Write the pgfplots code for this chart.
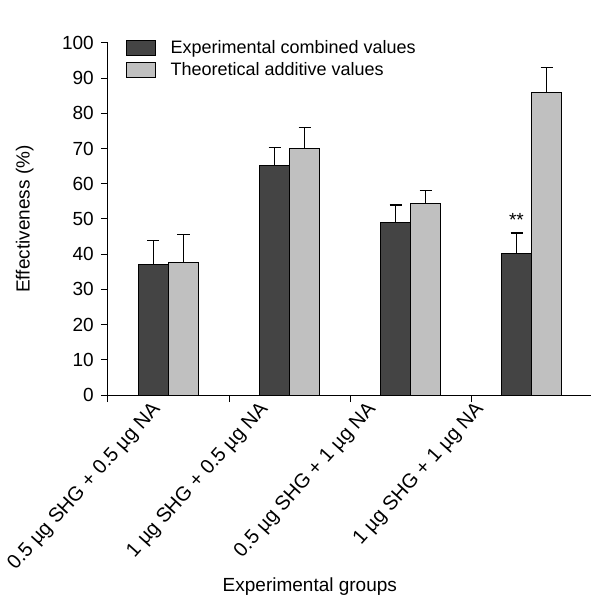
\documentclass[border=0pt]{standalone}
\usepackage{pgfplots}
\pgfplotsset{compat=1.18}
\usepackage{fontspec}
\setmainfont{Liberation Sans}
\usetikzlibrary{calc}

\definecolor{darkbar}{HTML}{444444}
\definecolor{lightbar}{HTML}{C0C0C0}

\begin{document}
\begin{tikzpicture}
\begin{axis}[
    at={(0,0)}, anchor=south west,
    scale only axis,
    width=484pt, height=352pt,
    xmin=-0.5, xmax=3.5,
    ymin=0, ymax=100,
    axis lines*=left,
    axis line style={line width=1pt},
    ybar=0pt, bar width=30pt,
    xtick={-0.5,0.5,1.5,2.5},
    xticklabels={},
    extra x ticks={-0.18,0.71,1.60,2.49},
    extra x tick labels={0.5 µg SHG + 0.5 µg NA, 1 µg SHG + 0.5 µg NA, 0.5 µg SHG + 1 µg NA, 1 µg SHG + 1 µg NA},
    extra x tick style={major tick length=0pt,
        tick label style={rotate=48, anchor=north east, inner sep=1pt, yshift=-5pt,
            font=\fontsize{20}{24}\selectfont}},
    ytick={0,10,...,100},
    tick align=outside,
    major tick length=7pt,
    tick style={line width=1pt, black},
    tick label style={font=\fontsize{19}{22}\selectfont},
    yticklabel style={inner sep=0pt, xshift=-7pt},
    /pgf/number format/assume math mode=true,
    ylabel={Effectiveness (\%)},
    xlabel={Experimental groups},
    label style={font=\fontsize{19}{22}\selectfont},
    ylabel style={at={(axis description cs:-0.172,0.5)}, anchor=center},
    xlabel style={at={(axis description cs:0.417,-0.545)}, anchor=center},
    legend style={draw=none, fill=none, at={(axis description cs:0.035,1.015)},
        anchor=north west, font=\fontsize{18}{21}\selectfont,
        row sep=3pt, inner sep=1pt},
    legend cell align=left,
    legend image code/.code={\draw[#1,draw=black,line width=0.8pt] (0pt,-7.5pt) rectangle (29pt,7.5pt);
        \path[draw=none,fill=none] (0pt,0pt) -- (42pt,0pt);},
    error bars/y dir=plus,
    error bars/y explicit,
    error bars/error bar style={line width=1.2pt, black},
    error bars/error mark options={rotate=90, mark size=6pt, line width=1.2pt, black},
]
\addplot[fill=darkbar, draw=black, line width=1pt] coordinates {
    (0,37.2) +- (0,6.8)
    (1,65.1) +- (0,5.1)
    (2,49.0) +- (0,5.0)
    (3,40.3) +- (0,5.7)
};
\addlegendentry{Experimental combined values}
\addplot[fill=lightbar, draw=black, line width=1pt] coordinates {
    (0,37.5) +- (0,8.0)
    (1,70.1) +- (0,5.9)
    (2,54.3) +- (0,3.7)
    (3,85.9) +- (0,7.1)
};
\addlegendentry{Theoretical additive values}
\node[font=\fontsize{19}{22}\selectfont] at (axis cs:2.876,49.8) {**};
\node[font=\fontsize{20}{24}\selectfont\bfseries] at (axis description cs:-0.165,1.048) {C};
\end{axis}
\pgfresetboundingbox
\useasboundingbox (-108pt,-206pt) rectangle (482pt,395pt);
\end{tikzpicture}
\end{document}
